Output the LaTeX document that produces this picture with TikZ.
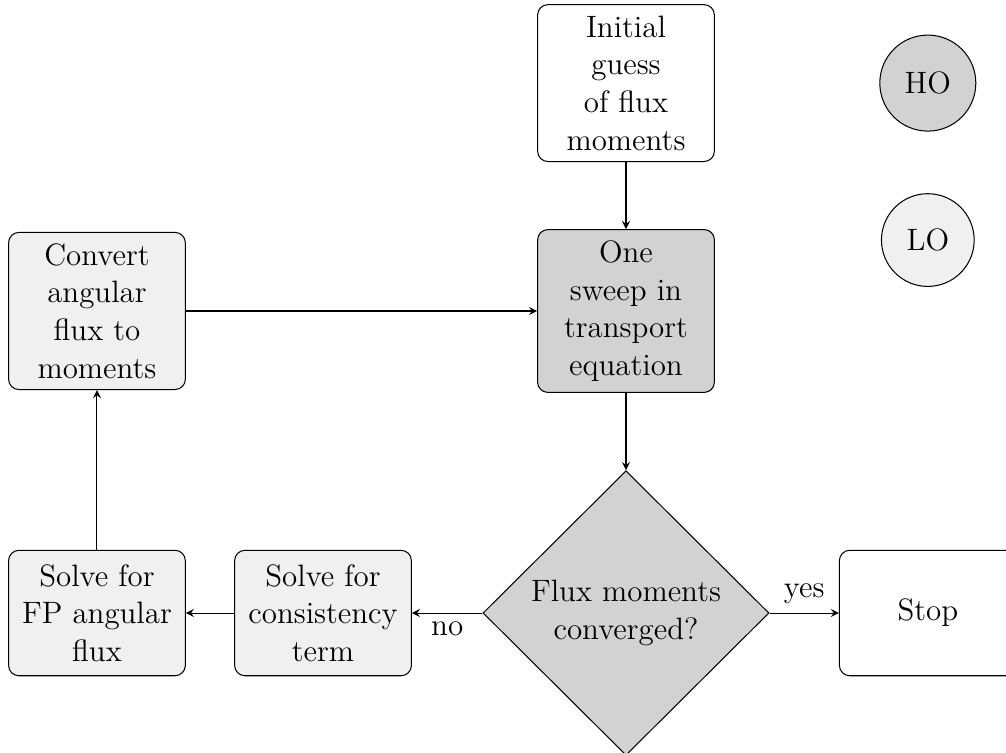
\documentclass[tikz,border=0pt]{standalone}
\usetikzlibrary{shapes.geometric}
\begin{document}
\begin{tikzpicture}[>=stealth, font={\fontsize{12}{14.6}\selectfont}]
    \tikzstyle{step box}=[draw, rounded corners=4pt, align=center, minimum width=2.41cm, minimum height=1.71cm, inner xsep=4pt, inner ysep=4.3pt]
    \tikzstyle{ho}=[fill=gray!35]
    \tikzstyle{lo}=[fill=gray!12]
    \useasboundingbox (0,0) rectangle (13.716,10.253);

    % draw legend
    \node [draw, circle, ho, inner sep=6.3pt] (legend-ho) at (12.65,9.12) {HO};
    \node [draw, circle, lo, inner sep=6.3pt] (legend-lo) at (12.65,6.98) {LO};

    % draw steps
    \node [step box] (init) at (8.535,9.12) {Initial\\guess\\of flux\\moments};
    \node [step box, ho] (sweep) at (8.535,6.013) {One\\sweep in\\transport\\equation};
    \node [step box, lo] (convert) at (1.322,6.013) {Convert\\angular\\flux to\\moments};
    \node [draw, diamond, ho, align=center, minimum width=3.9cm, minimum height=3.88cm, inner sep=0pt] (check) at (8.535,1.895) {Flux moments\\converged?};
    \node [step box] (stop) at (12.65,1.895) {Stop};
    \node [step box, lo] (consist) at (4.404,1.895) {Solve for\\consistency\\term};
    \node [step box, lo] (fp) at (1.322,1.895) {Solve for\\FP angular\\flux};

    % draw lines
    \draw [->] (init) -- (sweep);
    \draw [->] (sweep) -- (check);
    \draw [->] (check) -- (stop) node [above, midway] {yes};
    \draw [->] (check) -- (consist) node [below, midway] {no};
    \draw [->] (consist) -- (fp);
    \draw [->] (fp) -- (convert);
    \draw [->] (convert) -- (sweep);
\end{tikzpicture}
\end{document}
